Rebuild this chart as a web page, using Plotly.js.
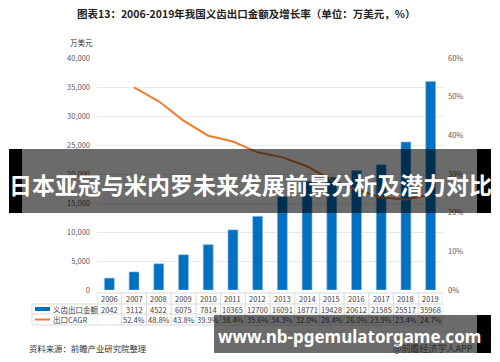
<!DOCTYPE html>
<html>
<head>
<meta charset="utf-8">
<script src="https://cdn.plot.ly/plotly-3.0.1.min.js"></script>
<style>html,body{margin:0;padding:0;background:#fff;}#chart{width:500px;height:362px;}</style>
</head>
<body>
<div id="chart"></div>
<script>
// ---- data ----
const years = ["2006","2007","2008","2009","2010","2011","2012","2013","2014","2015","2016","2017","2018","2019"];
const exportValue = [2042, 3112, 4522, 6075, 7814, 10365, 12700, 16091, 18771, 19428, 20612, 21585, 25517, 35968];
const cagr = [null, 52.4, 48.8, 43.8, 39.9, 38.4, 35.6, 34.3, 32.0, 28.4, 26.0, 23.9, 23.4, 24.7];
const seriesNames = ["义齿出口金额", "出口CAGR"];
const chartTitle = "图表13：2006-2019年我国义齿出口金额及增长率（单位：万美元，%）";
const leftUnit = "万美元";
const sourceText = "资料来源：前瞻产业研究院整理";
const bannerTop = "日本亚冠与米内罗未来发展前景分析及潜力对比";
const bannerBottom = "www.nb-pgemulatorgame.com";
const bannerTag = "@前瞻经济学人APP";

// ---- geometry helpers (pixel -> paper) ----
const W = 500, H = 362;
const M = {l: 97, r: 57, t: 58, b: 72};
const PW = W - M.l - M.r, PH = H - M.t - M.b;
const px = x => (x - M.l) / PW;
const py = y => (H - M.b - y) / PH;

const CJK = '"Noto Sans CJK SC", "Noto Sans", sans-serif';
const tableFont = {family: CJK, size: 7.5, color: '#404040'};
const gridC = '#d9d9d9';

const annotations = [];
const shapes = [];

// title & labels
annotations.push({text: '<b>' + chartTitle + '</b>', xref: 'paper', yref: 'paper', x: px(246), y: py(14),
  xanchor: 'center', yanchor: 'middle', showarrow: false, font: {family: CJK, size: 10.5, color: '#222'}});
annotations.push({text: leftUnit, xref: 'paper', yref: 'paper', x: px(68), y: py(42),
  xanchor: 'left', yanchor: 'middle', showarrow: false, font: {family: CJK, size: 7.5, color: '#333'}});
annotations.push({text: sourceText, xref: 'paper', yref: 'paper', x: px(27), y: py(348),
  xanchor: 'left', yanchor: 'middle', showarrow: false, font: {family: CJK, size: 8.4, color: '#333'}});

// table
const rowY = [298.5, 309, 319.5];
years.forEach((yr, i) => {
  annotations.push({text: yr, xref: 'x', yref: 'paper', x: i, y: py(rowY[0]), xanchor: 'center', yanchor: 'middle', showarrow: false, font: tableFont});
  annotations.push({text: String(exportValue[i]), xref: 'x', yref: 'paper', x: i, y: py(rowY[1]), xanchor: 'center', yanchor: 'middle', showarrow: false, font: tableFont});
  if (cagr[i] !== null) {
    annotations.push({text: cagr[i].toFixed(1) + '%', xref: 'x', yref: 'paper', x: i, y: py(rowY[2]), xanchor: 'center', yanchor: 'middle', showarrow: false, font: tableFont});
  }
});
annotations.push({text: seriesNames[0], xref: 'paper', yref: 'paper', x: px(51), y: py(rowY[1]), xanchor: 'left', yanchor: 'middle', showarrow: false, font: tableFont});
annotations.push({text: seriesNames[1], xref: 'paper', yref: 'paper', x: px(51), y: py(rowY[2]), xanchor: 'left', yanchor: 'middle', showarrow: false, font: tableFont});

// table lines
shapes.push({type: 'line', xref: 'paper', yref: 'paper', x0: 0, x1: 1, y0: py(293), y1: py(293), line: {color: gridC, width: 1}});
[304, 314, 325].forEach(y => shapes.push({type: 'line', xref: 'paper', yref: 'paper', x0: px(32), x1: 1, y0: py(y), y1: py(y), line: {color: gridC, width: 1}}));
for (let k = 0; k <= years.length; k++) {
  shapes.push({type: 'line', xref: 'x', yref: 'paper', x0: k - 0.5, x1: k - 0.5, y0: py(293), y1: py(325), line: {color: gridC, width: 1}});
}
shapes.push({type: 'line', xref: 'paper', yref: 'paper', x0: px(32), x1: px(32), y0: py(304), y1: py(325), line: {color: gridC, width: 1}});
// legend icons
shapes.push({type: 'rect', xref: 'paper', yref: 'paper', x0: px(35), x1: px(50), y0: py(307), y1: py(311), fillcolor: '#0070C0', line: {width: 0}});
shapes.push({type: 'line', xref: 'paper', yref: 'paper', x0: px(35), x1: px(50), y0: py(319.5), y1: py(319.5), line: {color: '#ED7D31', width: 2}});

// banners (drawn as annotation boxes so they cover text beneath)
function box(x0, x1, y0, y1, color) {
  annotations.push({text: ' ', xref: 'paper', yref: 'paper', x: px(x0), y: py(y0), xanchor: 'left', yanchor: 'top',
    width: x1 - x0, height: y1 - y0, borderpad: 0, borderwidth: 0, bgcolor: color, showarrow: false, font: {size: 1}});
}
box(22, 477, 149, 213, 'rgba(0,0,0,0.58)');
box(9, 22, 149, 213, '#000');
box(477, 491, 149, 213, '#000');
box(214, 477, 315, 353, 'rgba(0,0,0,0.58)');
box(477, 491, 315, 353, '#000');
annotations.push({text: '<b>' + bannerTop + '</b>', xref: 'paper', yref: 'paper', x: px(250), y: py(184),
  xanchor: 'center', yanchor: 'middle', showarrow: false, font: {family: CJK, size: 23, color: '#fff'}});
annotations.push({text: '<b>' + bannerBottom + '</b>', xref: 'paper', yref: 'paper', x: px(349), y: py(336),
  xanchor: 'center', yanchor: 'middle', showarrow: false, font: {family: '"Noto Sans", sans-serif', size: 17, color: '#fff'}});
annotations.push({text: bannerTag, xref: 'paper', yref: 'paper', x: px(475), y: py(348),
  xanchor: 'right', yanchor: 'middle', showarrow: false, font: {family: CJK, size: 9, color: '#2a2a2a'}});

const traces = [
  {type: 'bar', x: years, y: exportValue, name: seriesNames[0], marker: {color: '#0070C0', line: {color: '#8fb8df', width: 0.6}}, hoverinfo: 'skip'},
  {type: 'scatter', mode: 'lines', x: years, y: cagr, yaxis: 'y2', name: seriesNames[1], line: {color: '#ED7D31', width: 2}, connectgaps: false, hoverinfo: 'skip'}
];

const layout = {
  width: W, height: H,
  margin: M,
  paper_bgcolor: '#fff', plot_bgcolor: '#fff',
  showlegend: false,
  bargap: 0.6,
  font: {family: CJK, size: 7.5, color: '#595959'},
  xaxis: {type: 'category', range: [-0.5, years.length - 0.5], showticklabels: false, showgrid: false, zeroline: false, showline: false, ticks: ''},
  yaxis: {range: [0, 40000], dtick: 5000, tickformat: ',d', showgrid: true, gridcolor: '#e6e9ee', gridwidth: 1, zeroline: false, showline: false, ticks: '', ticklabelstandoff: 6,
    tickfont: {family: CJK, size: 7.5, color: '#595959'}},
  yaxis2: {overlaying: 'y', side: 'right', range: [0, 60], dtick: 10, ticksuffix: '%', showgrid: false, zeroline: false, showline: false, ticks: '', ticklabelstandoff: 4,
    tickfont: {family: CJK, size: 7.5, color: '#595959'}},
  annotations: annotations,
  shapes: shapes
};

Plotly.newPlot('chart', traces, layout, {staticPlot: true, displayModeBar: false});
</script>
</body>
</html>
